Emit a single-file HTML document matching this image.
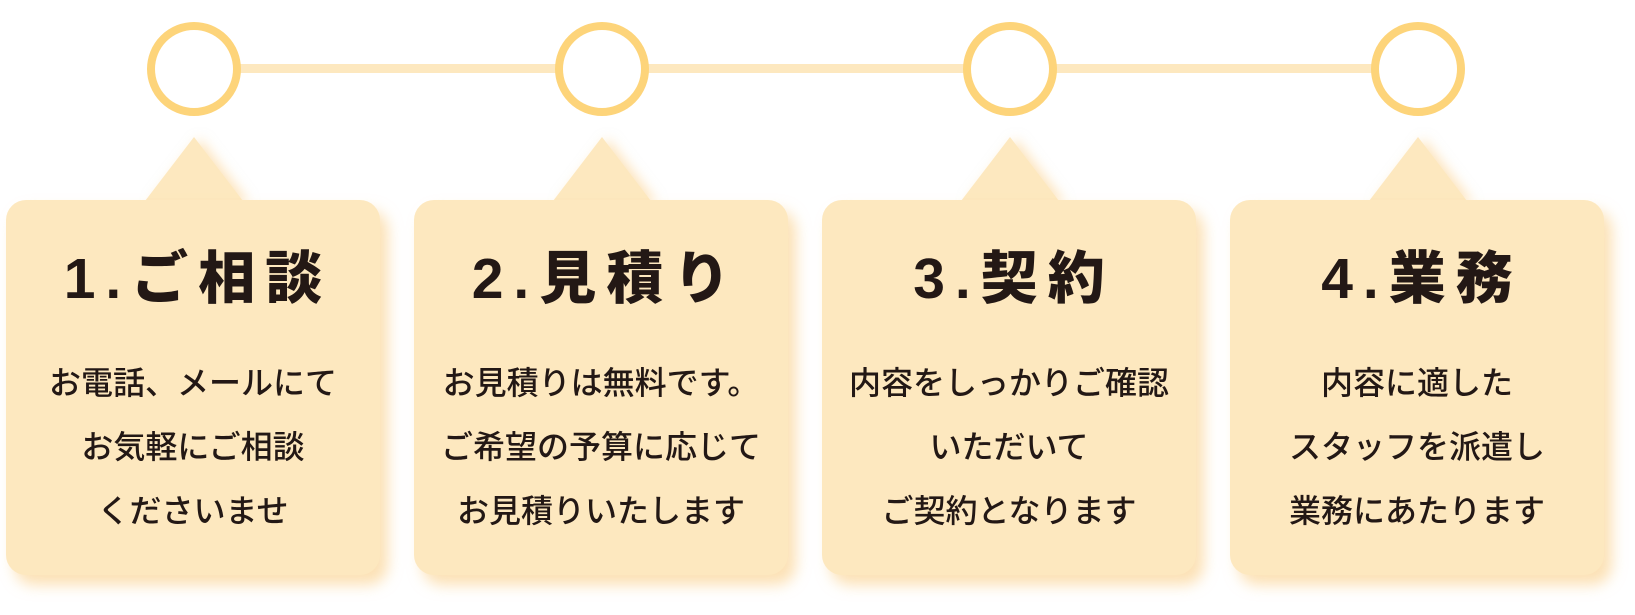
<!DOCTYPE html>
<html><head><meta charset="utf-8"><style>
body{margin:0;width:1635px;height:615px;background:#fff;position:relative;overflow:hidden;font-family:"Liberation Sans","Noto Sans CJK JP",sans-serif;color:#231815}
.line{position:absolute;left:194px;width:1224px;top:64px;height:9px;background:#fde8bf}
.c{position:absolute;top:22px;width:78px;height:78px;border:8px solid #fdd47a;border-radius:50%;background:#fff}
.box{position:absolute;top:200px;width:374px;height:375px;background:#fde8bf;border-radius:20px;box-shadow:8px 10px 14px rgba(250,200,120,.55);text-align:center}
.tri{position:absolute;top:137px;width:0;height:0;border-left:49px solid transparent;border-right:49px solid transparent;border-bottom:64px solid #fde8bf;filter:drop-shadow(6px 2px 6px rgba(250,200,120,.5))}
.t{position:absolute;left:0;right:0;top:44px;font-size:57px;font-weight:900;letter-spacing:10px;padding-left:10px;line-height:70px}
.b{position:absolute;left:0;right:0;font-size:32px;line-height:64px;top:151px;font-weight:500}
</style></head><body>
<div class="line"></div>
<div class="c" style="left:147px"></div>
<div class="c" style="left:555px"></div>
<div class="c" style="left:963px"></div>
<div class="c" style="left:1371px"></div>

<div class="tri" style="left:145px"></div>
<div class="tri" style="left:553px"></div>
<div class="tri" style="left:961px"></div>
<div class="tri" style="left:1369px"></div>

<div class="box" style="left:6px"><div class="t">1.ご相談</div><div class="b">お電話、メールにて<br>お気軽にご相談<br>くださいませ</div></div>
<div class="box" style="left:414px"><div class="t">2.見積り</div><div class="b">お見積りは無料です。<br>ご希望の予算に応じて<br>お見積りいたします</div></div>
<div class="box" style="left:822px"><div class="t">3.契約</div><div class="b">内容をしっかりご確認<br>いただいて<br>ご契約となります</div></div>
<div class="box" style="left:1230px"><div class="t">4.業務</div><div class="b">内容に適した<br>スタッフを派遣し<br>業務にあたります</div></div>
</body></html>
